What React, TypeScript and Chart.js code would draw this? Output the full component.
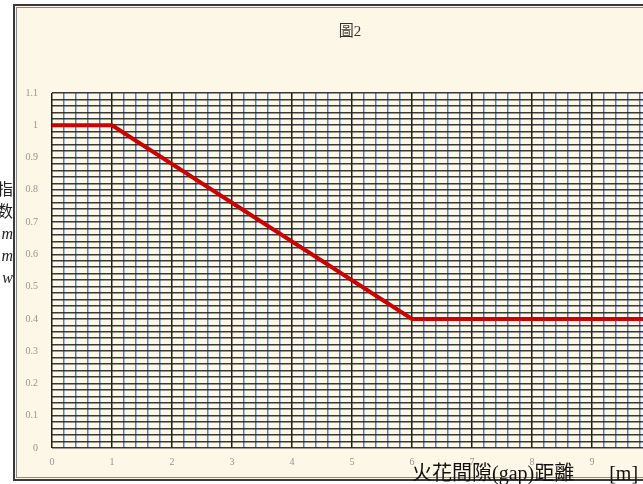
import React, { useEffect, useRef } from "react";
import { Chart, registerables } from "chart.js";

Chart.register(...registerables);

const chartTitle = "圖2";
const xAxisTitle = "火花間隙(gap)距離\u00a0\u00a0\u00a0\u00a0\u00a0\u00a0\u00a0[m]";
const yAxisTitleLines = ["指", "数", "m", "m", "w"];

// break points of the curve (x in m, y index)
const xPoints = [0, 1, 6, 10];
const redValues = [1, 1, 0.4, 0.4];
const blueValues = [1, 1, 0.4, 0.4];

const xMin = 0;
const xMax = 10;
const xStep = 0.2;
const yMin = 0;
const yMax = 1.1;
const yStep = 0.02;

const isWhole = (v: number, mult: number) =>
  Math.abs(v * mult - Math.round(v * mult)) < 1e-6;

export default function App() {
  const canvasRef = useRef<HTMLCanvasElement | null>(null);

  useEffect(() => {
    document.body.style.margin = "0";
    const canvas = canvasRef.current;
    if (!canvas) return;
    const tickFont = { family: "'Liberation Serif', serif", size: 10 };
    const chart = new Chart(canvas, {
      type: "line",
      data: {
        datasets: [
          {
            label: "red",
            data: xPoints.map((x, i) => ({ x, y: redValues[i] })),
            borderColor: "#cc0000",
            borderWidth: 4,
            pointRadius: 0,
            tension: 0,
            order: 0,
          },
          {
            label: "blue",
            data: xPoints.map((x, i) => ({ x, y: blueValues[i] })),
            borderColor: "#3f6fd0",
            borderWidth: 2,
            pointRadius: 0,
            tension: 0,
            order: 1,
          },
        ],
      },
      options: {
        responsive: false,
        animation: false,
        layout: { padding: { left: 0, top: 93, right: 68, bottom: 0 } },
        plugins: {
          legend: { display: false },
          title: { display: false },
          tooltip: { enabled: false },
        },
        scales: {
          x: {
            type: "linear",
            min: xMin,
            max: xMax,
            border: { display: false },
            grid: {
              drawTicks: false,
              lineWidth: 1.5,
              color: (ctx: any) =>
                isWhole(ctx.tick.value, 1) ? "#1e1e1e" : "#4f80d8",
            },
            ticks: {
              stepSize: xStep,
              maxTicksLimit: 1000,
              autoSkip: false,
              maxRotation: 0,
              padding: 8,
              color: "#959595",
              font: tickFont,
              callback: (v: any) =>
                isWhole(Number(v), 1) ? String(Math.round(Number(v))) : "",
            },
            afterFit: (s: any) => {
              s.height = 36;
            },
          },
          y: {
            type: "linear",
            min: yMin,
            max: yMax,
            border: { display: false },
            grid: {
              drawTicks: false,
              lineWidth: 1.6,
              color: "rgba(35,35,35,0.9)",
            },
            ticks: {
              stepSize: yStep,
              maxTicksLimit: 1000,
              autoSkip: false,
              padding: 14,
              color: "#959595",
              font: tickFont,
              callback: (v: any) =>
                isWhole(Number(v), 10)
                  ? String(Math.round(Number(v) * 10) / 10)
                  : "",
            },
            afterFit: (s: any) => {
              s.width = 52;
            },
          },
        },
      },
    });
    return () => chart.destroy();
  }, []);

  return (
    <div
      style={{
        position: "relative",
        width: 643,
        height: 484,
        overflow: "hidden",
        background: "#ffffff",
      }}
    >
      <div
        style={{
          position: "absolute",
          left: 13,
          top: 4,
          width: 700,
          height: 477,
          boxSizing: "border-box",
          border: "2px solid #3a3a3a",
          boxShadow: "inset 0 0 0 1px #fdf7e8, inset 0 0 0 2px #8a8a8a",
          background: "#fdf7e8",
        }}
      />
      <canvas
        ref={canvasRef}
        width={720}
        height={484}
        style={{ position: "absolute", left: 0, top: 0, width: 720, height: 484 }}
      />
      <div
        style={{
          position: "absolute",
          left: 300,
          width: 100,
          top: 19,
          textAlign: "center",
          fontFamily: "'Liberation Serif', 'Noto Sans CJK TC', serif",
          fontSize: 15,
          color: "#333",
        }}
      >
        {chartTitle}
      </div>
      <div
        style={{
          position: "absolute",
          left: -20,
          width: 33,
          top: 179,
          textAlign: "right",
          fontFamily: "'Liberation Serif', 'Noto Sans CJK TC', serif",
          fontSize: 16,
          lineHeight: "22px",
          color: "#222",
        }}
      >
        {yAxisTitleLines.map((t, i) => (
          <div key={i} style={{ fontStyle: i >= 2 ? "italic" : "normal" }}>
            {t}
          </div>
        ))}
      </div>
      <div
        style={{
          position: "absolute",
          left: 412,
          top: 463,
          whiteSpace: "nowrap",
          fontFamily: "'Liberation Serif', 'Noto Sans CJK TC', serif",
          fontSize: 20,
          lineHeight: "20px",
          color: "#111",
        }}
      >
        {xAxisTitle}
      </div>
    </div>
  );
}
